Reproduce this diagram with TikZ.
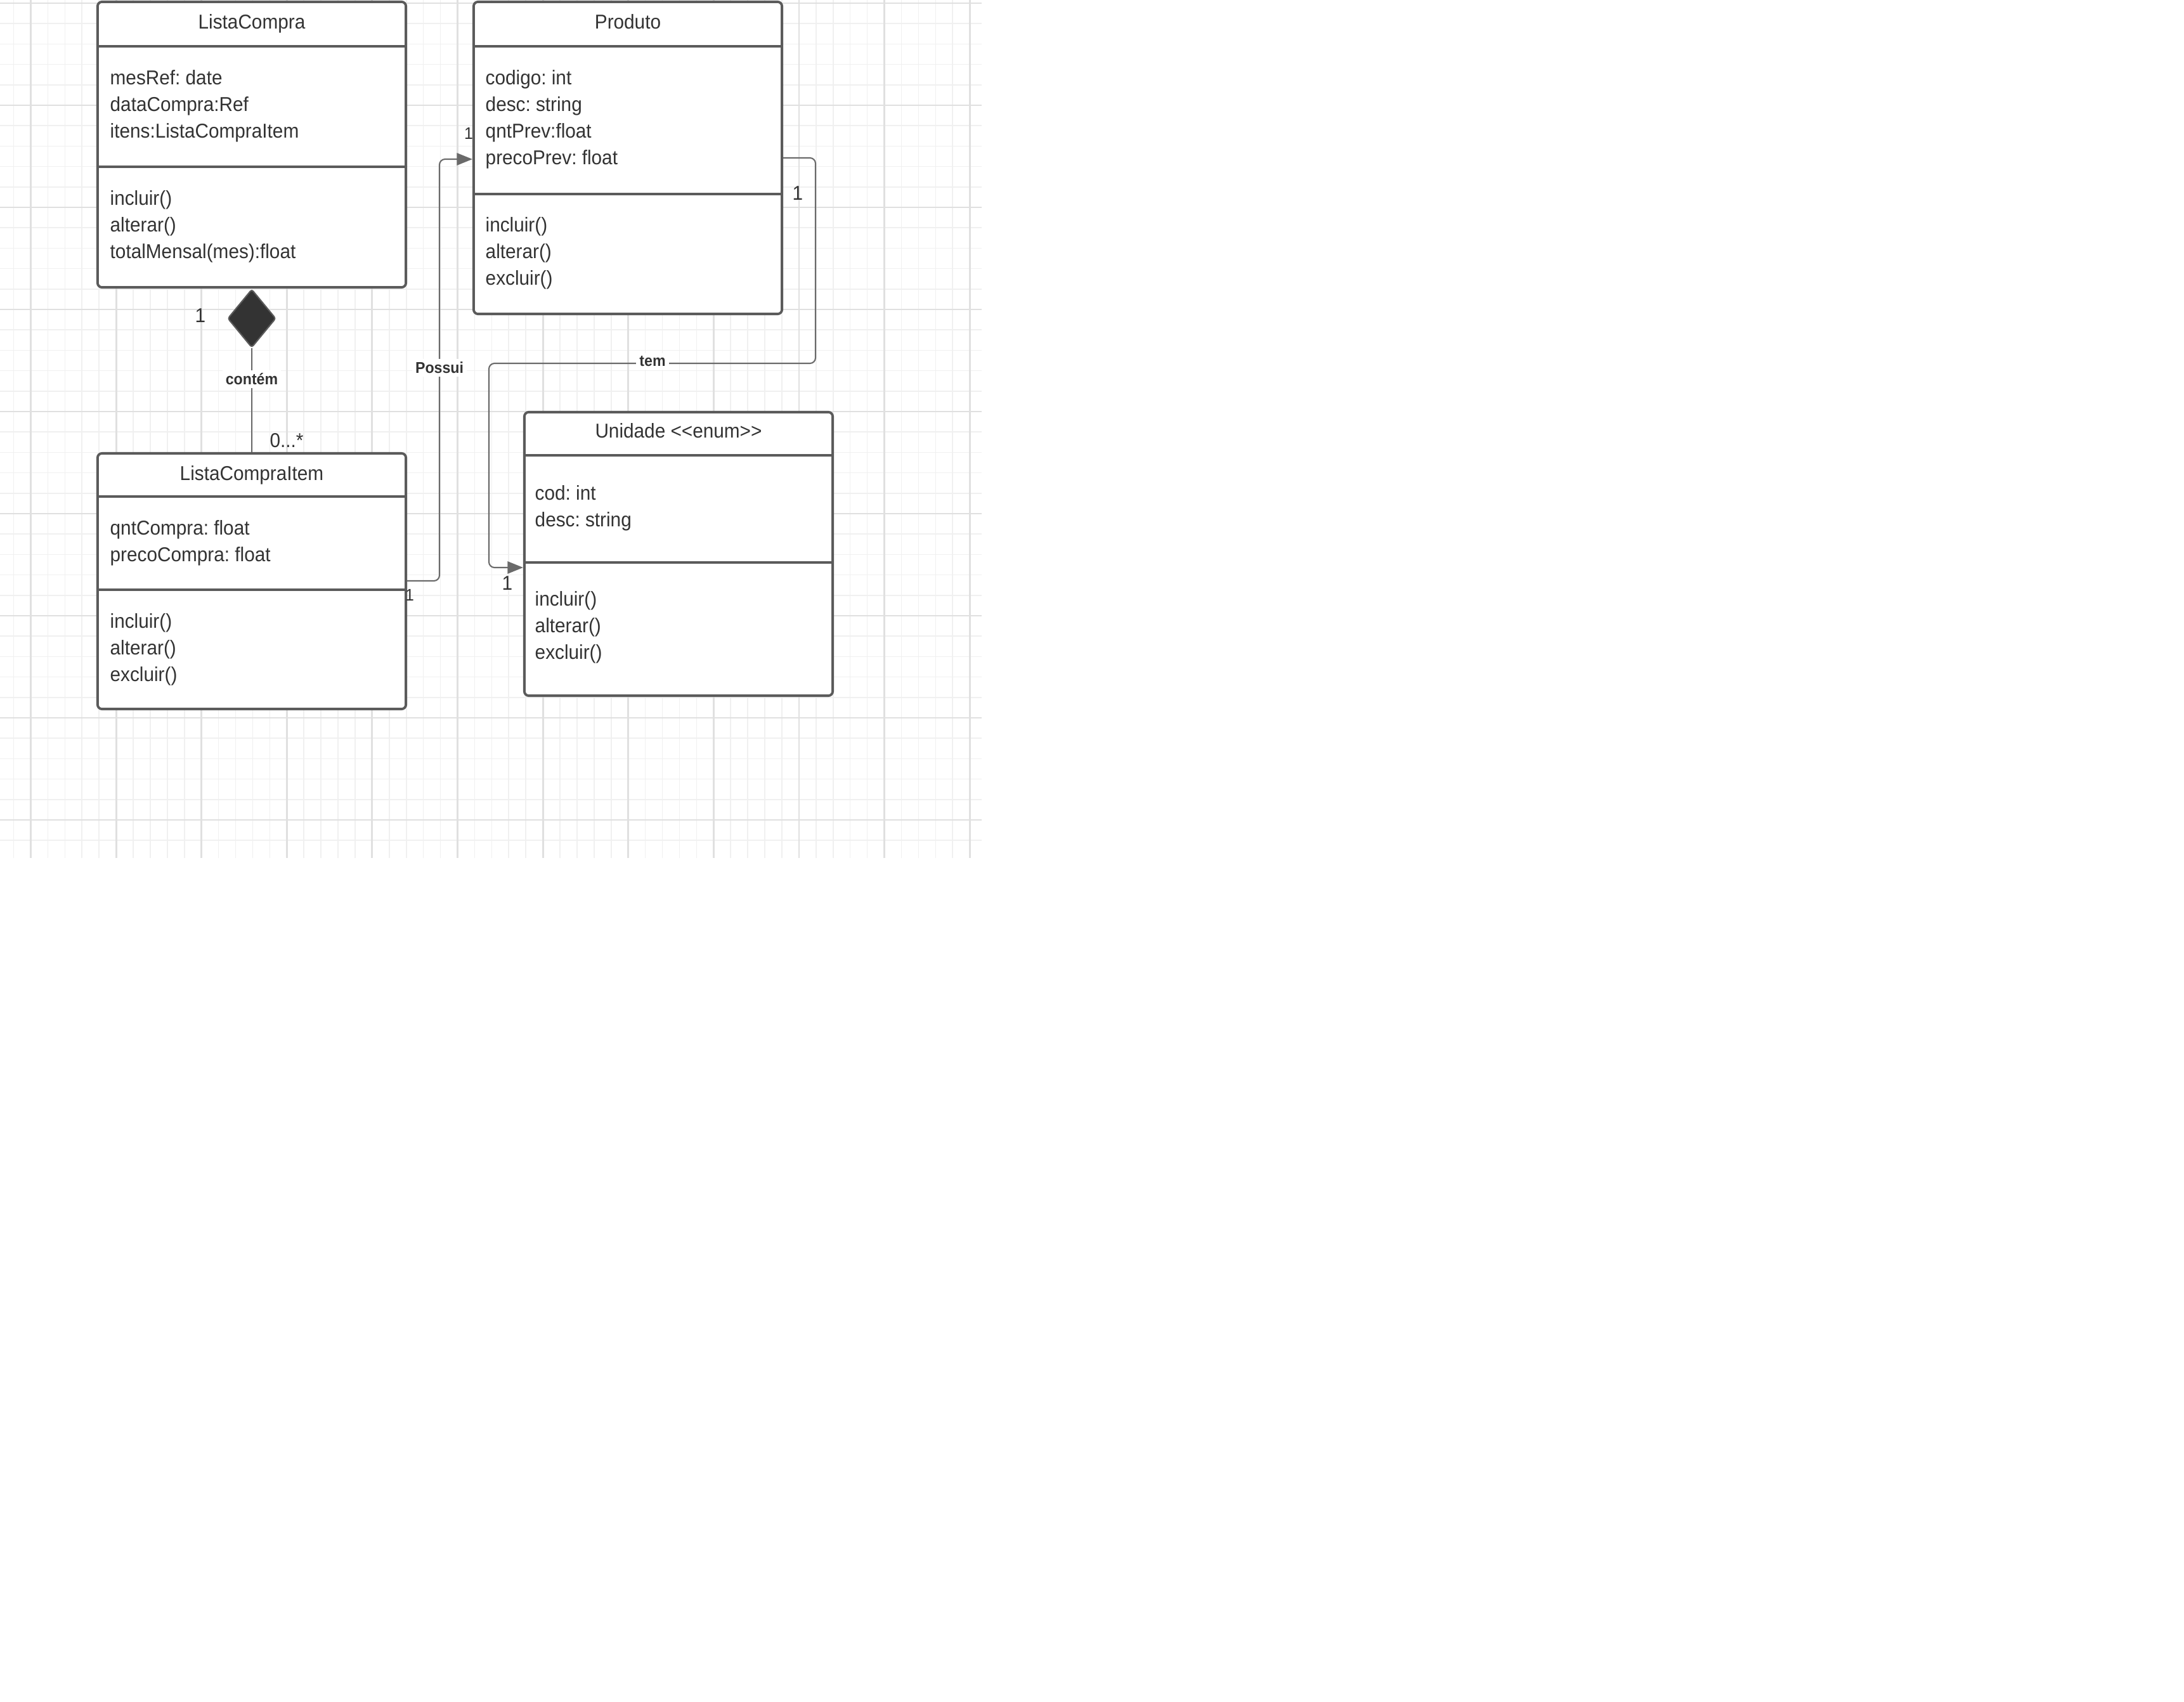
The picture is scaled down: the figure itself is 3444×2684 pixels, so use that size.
\documentclass[tikz,border=0pt]{standalone}
\usepackage{fontspec}
\setmainfont{Liberation Sans}[FakeStretch=0.94]
\usetikzlibrary{arrows.meta,shapes.geometric}
\definecolor{boxgray}{HTML}{5B5B5B}
\definecolor{linegray}{HTML}{6A6A6A}
\definecolor{textgray}{HTML}{333333}
\definecolor{gridminor}{HTML}{F0F0F0}
\definecolor{gridmajor}{HTML}{E0E0E0}
\frenchspacing

\begin{document}
\begin{tikzpicture}[x=0.01cm,y=-0.01cm]

\tikzset{classbox/.style = {draw=boxgray, line width=1.1pt, rounded corners=2pt, fill=white, minimum width=4.86cm, inner sep=0pt}}
\tikzset{sepline/.style = {draw=boxgray, line width=1.1pt}}
\tikzset{classname/.style = {font=\fontsize{9}{11.95}\selectfont, text=textgray, anchor=base, inner sep=0pt}}
\tikzset{members/.style = {font=\fontsize{9}{11.95}\selectfont, text=textgray, align=left, anchor=north west, inner sep=0pt}}
\tikzset{mult/.style = {font=\fontsize{9}{11}\selectfont, text=textgray, inner sep=0pt}}
\tikzset{smallmult/.style = {font=\fontsize{7.5}{9}\selectfont, text=textgray, inner sep=0pt}}
\tikzset{rel/.style = {draw=linegray, line width=0.6pt, rounded corners=2.5pt}}
\tikzset{relname/.style = {font=\bfseries\fontsize{7}{8}\selectfont, text=textgray, fill=white, inner sep=1.5pt}}
\tikzset{arrowhead/.style = {-{Triangle[length=7pt,width=5.5pt]}}}

\fill[white] (0,0) rectangle (3444,2684);
\useasboundingbox (0,0) rectangle (3444,2684);

%grid
\foreach \i in {0,...,56} \draw[gridminor, line width=0.45pt] ({21.6+26.92*\i},0) -- ({21.6+26.92*\i},1353);
\foreach \j in {0,...,41} \draw[gridminor, line width=0.45pt] (0,{5+32.2*\j}) -- (1548,{5+32.2*\j});
\foreach \i in {0,...,11} \draw[gridmajor, line width=0.8pt] ({48.5+134.6*\i},0) -- ({48.5+134.6*\i},1353);
\foreach \j in {0,...,8} \draw[gridmajor, line width=0.8pt] (0,{5+161*\j}) -- (1548,{5+161*\j});

%classes
\node[classbox, minimum height=4.5cm] (lc) at (397,228) {};
\draw[sepline] (lc.west |- 0,73) -- (lc.east |- 0,73);
\draw[sepline] (lc.west |- 0,263) -- (lc.east |- 0,263);
\node[classname] (lcname) at (397,45) {ListaCompra};
\node[members] (lcattr) at (173,110) {mesRef: date\\dataCompra:Ref\\itens:ListaCompraItem};
\node[members] (lcops) at (173,300) {incluir()\\alterar()\\totalMensal(mes):float};

\node[classbox, minimum height=4.92cm] (prod) at (990,249) {};
\draw[sepline] (prod.west |- 0,73) -- (prod.east |- 0,73);
\draw[sepline] (prod.west |- 0,306) -- (prod.east |- 0,306);
\node[classname] (prodname) at (990,45) {Produto};
\node[members] (prodattr) at (765,110) {codigo: int\\desc: string\\qntPrev:float\\precoPrev: float};
\node[members] (prodops) at (765,342) {incluir()\\alterar()\\excluir()};

\node[classbox, minimum height=4.03cm] (lci) at (397,916.5) {};
\draw[sepline] (lci.west |- 0,783) -- (lci.east |- 0,783);
\draw[sepline] (lci.west |- 0,930) -- (lci.east |- 0,930);
\node[classname] (lciname) at (397,757) {ListaCompraItem};
\node[members] (lciattr) at (173,820) {qntCompra: float\\precoCompra: float};
\node[members] (lciops) at (173,967) {incluir()\\alterar()\\excluir()};

\node[classbox, minimum height=4.47cm] (uni) at (1070,873.5) {};
\draw[sepline] (uni.west |- 0,718) -- (uni.east |- 0,718);
\draw[sepline] (uni.west |- 0,887) -- (uni.east |- 0,887);
\node[classname] (uniname) at (1070,690) {Unidade <{}<enum>{}>};
\node[members] (uniattr) at (843,765) {cod: int\\desc: string};
\node[members] (uniops) at (843,932) {incluir()\\alterar()\\excluir()};

%relations
\node[diamond, draw=boxgray, fill=textgray, line width=0.6pt, rounded corners=1pt, minimum width=0.76cm, minimum height=0.92cm, inner sep=0pt, anchor=north] (comp) at (lc.south) {};
\draw[rel] (comp.south) -- (lci.north);
\draw[rel, arrowhead] (lci.east |- 0,916) -- (693,916) -- (693,251) -- (prod.west |- 0,251);
\draw[rel, arrowhead] (prod.east |- 0,249) -- (1286,249) -- (1286,573) -- (771,573) -- (771,895) -- (uni.west |- 0,895);

\node[relname] (contem) at (397,598) {contém};
\node[relname] (possui) at (693,580) {Possui};
\node[relname] (tem) at (1029,570) {tem};

\node[mult] (m1) at (316,498) {1};
\node[mult] (m2) at (452,695) {0...*};
\node[smallmult] (m3) at (739,210) {1};
\node[smallmult] (m4) at (646,938) {1};
\node[mult] (m5) at (1258,305) {1};
\node[mult] (m6) at (800,920) {1};
\end{tikzpicture}
\end{document}
